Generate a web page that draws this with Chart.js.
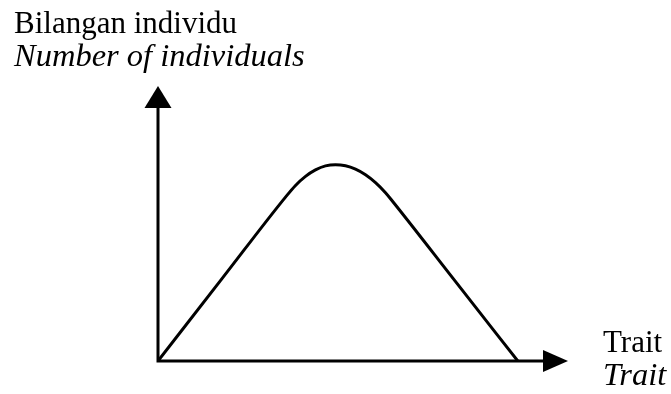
<!DOCTYPE html>
<html>
<head>
<meta charset="utf-8">
<script src="https://cdn.jsdelivr.net/npm/chart.js@4/dist/chart.umd.min.js"></script>
<style>
  html, body { margin: 0; padding: 0; background: #fff; }
  #wrap { width: 671px; height: 394px; }
</style>
</head>
<body>
<div id="wrap"><canvas id="chart"></canvas></div>
<script>
// trait value (x) and number of individuals (y)
const traitValues = [0, 1.561, 3.120, 3.354, 3.598, 3.841, 4.085, 4.329, 4.573, 4.817, 5.061, 5.305, 5.549, 5.715, 7.244, 8.776];
const individualCounts = [0, 2.993, 5.978, 6.384, 6.714, 6.949, 7.094, 7.138, 7.098, 6.975, 6.772, 6.486, 6.120, 5.819, 2.913, 0];

const yLabels = ["Bilangan individu", "Number of individuals"];
const xLabels = ["Trait", "Trait"];

const axisMax = { x: 10, y: 10 };

const serif = "'Liberation Serif', 'Times New Roman', serif";

// axes with arrowheads + the bilingual labels
const axesPlugin = {
    id: "arrowAxes",
    afterDraw(chart) {
        const ctx = chart.ctx;
        const xs = chart.scales.x, ys = chart.scales.y;
        const ox = xs.getPixelForValue(0), oy = ys.getPixelForValue(0);
        const xEnd = xs.getPixelForValue(axisMax.x);
        const yEnd = ys.getPixelForValue(axisMax.y);

        ctx.save();
        ctx.strokeStyle = "#000";
        ctx.fillStyle = "#000";
        ctx.lineWidth = 3;
        ctx.beginPath();
        ctx.moveTo(ox, yEnd + 20);
        ctx.lineTo(ox, oy);
        ctx.lineTo(xEnd - 22, oy);
        ctx.stroke();

        // up arrow
        ctx.beginPath();
        ctx.moveTo(ox, yEnd);
        ctx.lineTo(ox - 13.5, yEnd + 22);
        ctx.lineTo(ox + 13.5, yEnd + 22);
        ctx.closePath();
        ctx.fill();

        // right arrow
        ctx.beginPath();
        ctx.moveTo(xEnd, oy);
        ctx.lineTo(xEnd - 25, oy - 11);
        ctx.lineTo(xEnd - 25, oy + 11);
        ctx.closePath();
        ctx.fill();

        ctx.textBaseline = "alphabetic";
        ctx.textAlign = "left";
        ctx.font = "31px " + serif;
        ctx.fillText(yLabels[0], 14, 33);
        ctx.fillText(xLabels[0], 603, 352);
        ctx.font = "italic 32.5px " + serif;
        ctx.fillText(yLabels[1], 14, 66);
        ctx.fillText(xLabels[1], 603, 385);
        ctx.restore();
    }
};

const data = {
    datasets: [{
        data: traitValues.map((v, i) => ({ x: v, y: individualCounts[i] })),
        borderColor: "#000",
        borderWidth: 3,
        pointRadius: 0,
        fill: false,
        cubicInterpolationMode: "monotone"
    }]
};

new Chart(document.getElementById("chart"), {
    type: "line",
    data: data,
    options: {
        responsive: true,
        maintainAspectRatio: false,
        animation: false,
        layout: {
            padding: { left: 158, right: 103, top: 86, bottom: 33 }
        },
        plugins: {
            legend: { display: false },
            tooltip: { enabled: false }
        },
        scales: {
            x: { type: "linear", min: 0, max: axisMax.x, display: false },
            y: { type: "linear", min: 0, max: axisMax.y, display: false }
        }
    },
    plugins: [axesPlugin]
});
</script>
</body>
</html>
